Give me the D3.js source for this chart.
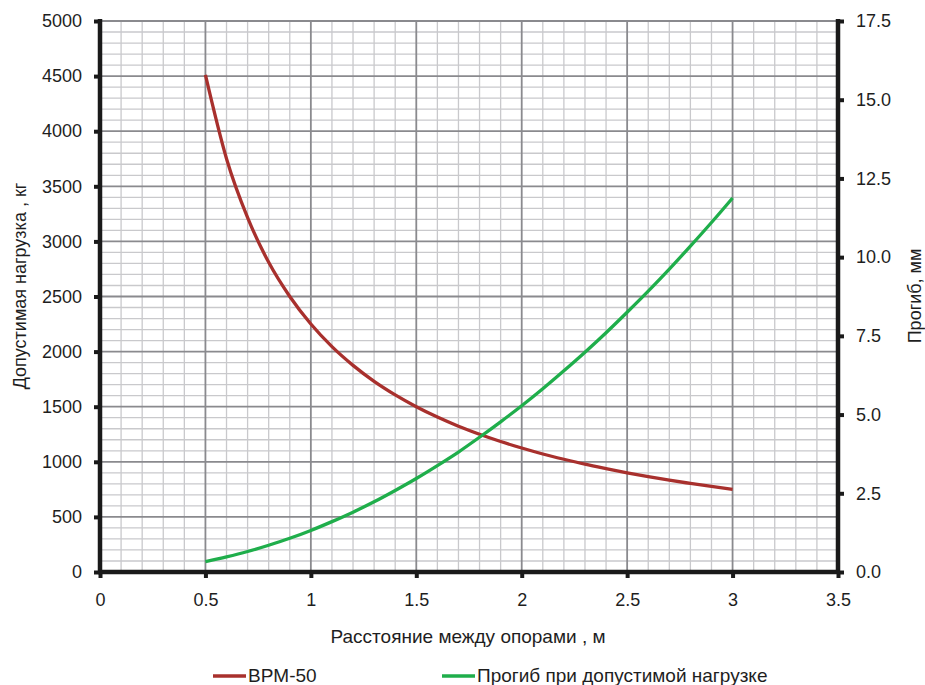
<!DOCTYPE html>
<html>
<head>
<meta charset="utf-8">
<script src="https://cdn.jsdelivr.net/npm/d3@7/dist/d3.min.js"></script>
<style>
  html, body { margin: 0; padding: 0; background: #fff; }
  svg { display: block; font-family: "Liberation Sans", Arial, Helvetica, sans-serif; }
</style>
</head>
<body>
<svg id="chart" width="925" height="685"></svg>
<script>
// ---- data ----
const spans = [0.5, 0.6, 0.7, 0.8, 0.9, 1.0, 1.1, 1.2, 1.3, 1.4, 1.5, 1.6, 1.7, 1.8, 1.9, 2.0, 2.1, 2.2, 2.3, 2.4, 2.5, 2.6, 2.7, 2.8, 2.9, 3.0];
const loadKg = [4510, 3750, 3215, 2810, 2500, 2250, 2045, 1875, 1730, 1607, 1500, 1406, 1323, 1250, 1184, 1125, 1071, 1023, 978, 938, 900, 865, 833, 804, 776, 750];
const deflectionMm = [0.33, 0.48, 0.65, 0.85, 1.07, 1.32, 1.60, 1.90, 2.23, 2.59, 2.97, 3.38, 3.81, 4.28, 4.77, 5.28, 5.82, 6.39, 6.98, 7.60, 8.25, 8.92, 9.62, 10.35, 11.10, 11.88];
const xTicks = [0, 0.5, 1, 1.5, 2, 2.5, 3, 3.5];
const xTickLabels = ["0", "0.5", "1", "1.5", "2", "2.5", "3", "3.5"];
const yLeftTicks = [0, 500, 1000, 1500, 2000, 2500, 3000, 3500, 4000, 4500, 5000];
const yRightTicks = [0, 2.5, 5, 7.5, 10, 12.5, 15, 17.5];
const seriesNames = ["BPM-50", "Прогиб при допустимой нагрузке"];
const seriesColors = ["#a8302d", "#1fae4b"];
const xTitle = "Расстояние между опорами , м";
const yLeftTitle = "Допустимая нагрузка , кг";
const yRightTitle = "Прогиб, мм";

// ---- layout ----
const svg = d3.select("#chart");
const L = 100, R = 838, T = 21, B = 572;
const x = d3.scaleLinear().domain([0, 3.5]).range([L, R]);
const yL = d3.scaleLinear().domain([0, 5000]).range([B, T]);
const yR = d3.scaleLinear().domain([0, 17.5]).range([B, T]);
const textColor = "#1e1e1e";

// minor grid
const minorX = d3.range(0, 35).map(i => i / 10).filter(v => Math.round(v * 10) % 5 !== 0);
const minorY = d3.range(0, 5000, 100).filter(v => v % 500 !== 0);
const g = svg.append("g");
g.selectAll(".mx").data(minorX).join("line")
  .attr("x1", d => x(d)).attr("x2", d => x(d)).attr("y1", T).attr("y2", B)
  .attr("stroke", "#c9c9cc").attr("stroke-width", 1.3);
g.selectAll(".my").data(minorY).join("line")
  .attr("x1", L).attr("x2", R).attr("y1", d => yL(d)).attr("y2", d => yL(d))
  .attr("stroke", "#c9c9cc").attr("stroke-width", 1.3);
// major grid
g.selectAll(".Mx").data(xTicks.slice(1, -1)).join("line")
  .attr("x1", d => x(d)).attr("x2", d => x(d)).attr("y1", T).attr("y2", B)
  .attr("stroke", "#8a8a8e").attr("stroke-width", 1.8);
g.selectAll(".My").data(yLeftTicks.slice(1)).join("line")
  .attr("x1", L).attr("x2", R).attr("y1", d => yL(d)).attr("y2", d => yL(d))
  .attr("stroke", "#8a8a8e").attr("stroke-width", 1.8);

// axes
function styleAxis(sel) {
  sel.select(".domain").remove();
  sel.selectAll(".tick line").attr("stroke", "#1a1a1a").attr("stroke-width", 4);
  sel.selectAll(".tick text").attr("fill", textColor).attr("font-size", 18);
}
const xAxis = svg.append("g").attr("transform", `translate(0,${B})`)
  .call(d3.axisBottom(x).tickValues(xTicks).tickFormat((d, i) => xTickLabels[i]).tickSize(6).tickPadding(15));
styleAxis(xAxis);
const yAxisL = svg.append("g").attr("transform", `translate(${L},0)`)
  .call(d3.axisLeft(yL).tickValues(yLeftTicks).tickFormat(d3.format("d")).tickSize(6).tickPadding(12));
styleAxis(yAxisL);
const yAxisR = svg.append("g").attr("transform", `translate(${R},0)`)
  .call(d3.axisRight(yR).tickValues(yRightTicks).tickFormat(d3.format(".1f")).tickSize(6).tickPadding(12));
styleAxis(yAxisR);

// thick axis lines
svg.append("line").attr("x1", L).attr("x2", L).attr("y1", T - 2).attr("y2", B + 2).attr("stroke", "#1a1a1a").attr("stroke-width", 4.5);
svg.append("line").attr("x1", R).attr("x2", R).attr("y1", T - 2).attr("y2", B + 2).attr("stroke", "#1a1a1a").attr("stroke-width", 4.5);
svg.append("line").attr("x1", L - 2).attr("x2", R + 2).attr("y1", B).attr("y2", B).attr("stroke", "#1a1a1a").attr("stroke-width", 4.5);

// series
const lineL = d3.line().x((d, i) => x(spans[i])).y(d => yL(d)).curve(d3.curveMonotoneX);
const lineR = d3.line().x((d, i) => x(spans[i])).y(d => yR(d)).curve(d3.curveMonotoneX);
svg.append("path").attr("d", lineL(loadKg)).attr("fill", "none")
  .attr("stroke", seriesColors[0]).attr("stroke-width", 3.3);
svg.append("path").attr("d", lineR(deflectionMm)).attr("fill", "none")
  .attr("stroke", seriesColors[1]).attr("stroke-width", 3.3);

// titles
svg.append("text").attr("x", 468).attr("y", 643).attr("text-anchor", "middle")
  .attr("font-size", 19).attr("fill", textColor).text(xTitle);
svg.append("text").attr("transform", "translate(26,286) rotate(-90)").attr("text-anchor", "middle")
  .attr("font-size", 18).attr("fill", textColor).text(yLeftTitle);
svg.append("text").attr("transform", "translate(921,296) rotate(-90)").attr("text-anchor", "middle")
  .attr("font-size", 18).attr("fill", textColor).text(yRightTitle);

// legend
const legendX = [213, 442];
seriesNames.forEach((name, i) => {
  svg.append("line").attr("x1", legendX[i]).attr("x2", legendX[i] + 33).attr("y1", 676).attr("y2", 676)
    .attr("stroke", seriesColors[i]).attr("stroke-width", 3.3);
  svg.append("text").attr("x", legendX[i] + 35).attr("y", 682)
    .attr("font-size", 19).attr("fill", textColor).text(name);
});
</script>
</body>
</html>
